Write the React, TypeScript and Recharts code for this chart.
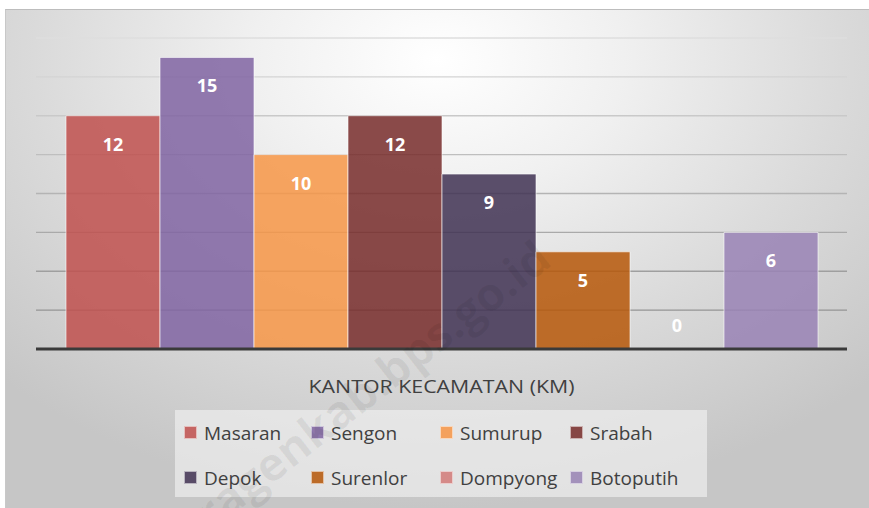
import { BarChart, Bar, XAxis, YAxis, CartesianGrid, Legend, LabelList } from "recharts"

const CATEGORY = "KANTOR KECAMATAN (KM)"
const NAMES = ["Masaran", "Sengon", "Sumurup", "Srabah", "Depok", "Surenlor", "Dompyong", "Botoputih"]
const VALUES = [12, 15, 10, 12, 9, 5, 0, 6]
const COLORS = ["#C0504D", "#8064A2", "#F79646", "#772C2A", "#403152", "#B65708", "#D37B79", "#9983B5"]
const Y_TICKS = [0, 2, 4, 6, 8, 10, 12, 14, 16]

const chartData = [
  NAMES.reduce((row: Record<string, any>, name, i) => {
    row[name] = VALUES[i]
    return row
  }, { name: CATEGORY }),
]

const font = "'Open Sans', 'Noto Sans', sans-serif"

function ValueLabel(props: any) {
  const { x, y, width, height, value } = props
  // a zero bar gets its label just above the axis line
  const cy = value === 0 ? y + height - 24 : y + 28
  return (
    <text
      x={x + width / 2}
      y={cy}
      fill="#fff"
      fontSize={18}
      fontWeight={700}
      fontFamily={font}
      textAnchor="middle"
      dominantBaseline="central"
    >
      {value}
    </text>
  )
}

function CategoryTick(props: any) {
  const { x, y, payload } = props
  return (
    <text
      x={x}
      y={y + 29}
      fill="#404040"
      fontSize={18}
      fontFamily={font}
      textAnchor="middle"
      dominantBaseline="central"
      textLength={266}
      lengthAdjust="spacingAndGlyphs"
    >
      {payload.value}
    </text>
  )
}

function LegendBox() {
  return (
    <div
      style={{
        width: 532,
        height: 87,
        background: "rgba(238,238,238,0.7)",
        display: "grid",
        gridTemplateColumns: "127px 129px 130px 146px",
        gridTemplateRows: "45px 45px",
        boxSizing: "border-box",
        fontFamily: font,
        fontSize: 19,
        color: "#404040",
      }}
    >
      {NAMES.map((name, i) => (
        <div key={name} style={{ display: "flex", alignItems: "center", paddingLeft: 9 }}>
          <span
            style={{
              width: 11,
              height: 11,
              background: COLORS[i],
              opacity: 0.85,
              border: "1px solid rgba(255,255,255,0.6)",
              marginRight: 7,
              display: "inline-block",
            }}
          />
          <span>{name}</span>
        </div>
      ))}
    </div>
  )
}

export default function App() {
  return (
    <div style={{ position: "fixed", left: 0, top: 0, width: 869, height: 508, background: "#fff", overflow: "hidden" }}>
      <div
        style={{
          position: "absolute",
          left: 5,
          top: 9,
          width: 864,
          height: 499,
          borderTop: "1px solid #bdbdbd",
          borderLeft: "1px solid #c8c8c8",
          boxSizing: "border-box",
          background: "radial-gradient(ellipse 72% 90% at 50% 10%, #ffffff 0%, #f0f0f0 30%, #dadada 65%, #c6c6c6 100%)",
        }}
      />
      <div style={{ position: "absolute", left: 0, top: 0 }}>
        <BarChart
          width={869}
          height={508}
          data={chartData}
          margin={{ top: 38, right: 22, bottom: 32, left: 36 }}
          barCategoryGap={30}
          barGap={0}
        >
          <defs>
            <linearGradient id="gridFade" gradientUnits="userSpaceOnUse" x1="0" y1="38" x2="0" y2="349">
              <stop offset="0%" stopColor="#dedede" />
              <stop offset="100%" stopColor="#8a8a8a" />
            </linearGradient>
          </defs>
          <CartesianGrid vertical={false} stroke="url(#gridFade)" strokeWidth={1.3} />
          <YAxis hide domain={[0, 16]} ticks={Y_TICKS} />
          <XAxis
            dataKey="name"
            axisLine={{ stroke: "#3a3a3a", strokeWidth: 3 }}
            tickLine={false}
            tick={<CategoryTick />}
            height={40}
          />
          {NAMES.map((name, i) => (
            <Bar
              key={name}
              dataKey={name}
              fill={COLORS[i]}
              fillOpacity={0.85}
              stroke="#ffffff"
              strokeOpacity={0.6}
              strokeWidth={1}
              minPointSize={1}
              isAnimationActive={false}
            >
              <LabelList dataKey={name} content={<ValueLabel />} />
            </Bar>
          ))}
          <Legend
            content={<LegendBox />}
            wrapperStyle={{ position: "absolute", left: 175, top: 410, width: 532, height: 87 }}
          />
        </BarChart>
      </div>
      <svg width={869} height={508} style={{ position: "absolute", left: 0, top: 0, pointerEvents: "none" }}>
        <text
          x={554}
          y={264}
          transform="rotate(-38 554 264)"
          textAnchor="end"
          fontFamily={font}
          fontWeight={700}
          fontSize={46}
          fill="#000"
          fillOpacity={0.06}
        >
          sragenkab.bps.go.id
        </text>
      </svg>
    </div>
  )
}
